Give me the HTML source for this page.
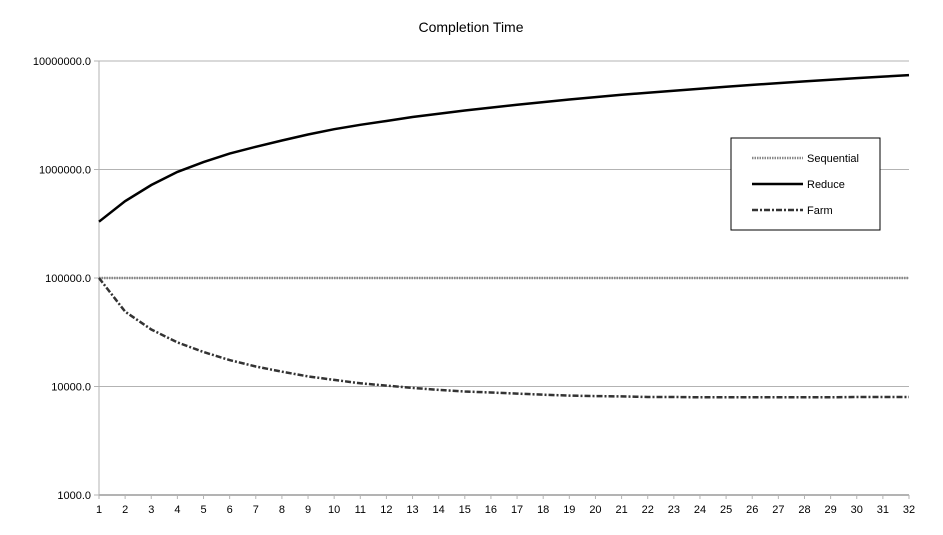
<!DOCTYPE html>
<html><head><meta charset="utf-8"><style>
body{margin:0;background:#fff;width:943px;height:530px;overflow:hidden;font-family:"Liberation Sans",sans-serif}
</style></head><body>
<svg id="chart" width="943" height="530" xmlns="http://www.w3.org/2000/svg" font-family="Liberation Sans, sans-serif">
<text x="471" y="32" font-size="14" text-anchor="middle" fill="#000">Completion Time</text>
<g id="grid"></g><g id="axes"></g><g id="series"></g>
<g>
<rect x="731" y="138" width="149" height="92" fill="#fff" stroke="#000" stroke-width="1"/>
<line x1="752" y1="158" x2="803" y2="158" stroke="#888" stroke-width="2.5" stroke-dasharray="1.5,1"/>
<text x="807" y="162" font-size="11" fill="#000">Sequential</text>
<line x1="752" y1="184" x2="803" y2="184" stroke="#000" stroke-width="2.5"/>
<text x="807" y="188" font-size="11" fill="#000">Reduce</text>
<line x1="752" y1="210" x2="803" y2="210" stroke="#333" stroke-width="2.5" stroke-dasharray="6,2,2,2"/>
<text x="807" y="214" font-size="11" fill="#000">Farm</text>
</g>
</svg>
<script>
const categories=[1,2,3,4,5,6,7,8,9,10,11,12,13,14,15,16,17,18,19,20,21,22,23,24,25,26,27,28,29,30,31,32];
const sequential=[100000,100000,100000,100000,100000,100000,100000,100000,100000,100000,100000,100000,100000,100000,100000,100000,100000,100000,100000,100000,100000,100000,100000,100000,100000,100000,100000,100000,100000,100000,100000,100000];
const reduce=[330000,510000,720000,950000,1170000,1400000,1620000,1850000,2100000,2350000,2580000,2800000,3050000,3270000,3500000,3720000,3950000,4180000,4420000,4650000,4880000,5100000,5330000,5560000,5800000,6020000,6250000,6480000,6720000,6950000,7180000,7420000];
const farm=[100000,49000,33500,25500,20800,17500,15300,13700,12400,11500,10700,10200,9700,9300,9000,8800,8600,8400,8250,8150,8100,8000,8000,7950,7950,7950,7950,7950,7950,8000,8000,8000];
const yTicks=[1000,10000,100000,1000000,10000000];
const yTickLabels=["1000.0","10000.0","100000.0","1000000.0","10000000.0"];
const NS="http://www.w3.org/2000/svg";
const X0=99,X1=909,Y0=495,Y1=61;
function xs(v){return X0+(v-categories[0])*(X1-X0)/(categories[categories.length-1]-categories[0]);}
function ys(v){return Y0-(Math.log10(v)-3)*(Y0-Y1)/4;}
function mk(tag,attrs,parent){const e=document.createElementNS(NS,tag);for(const k in attrs)e.setAttribute(k,attrs[k]);parent.appendChild(e);return e;}
const grid=document.getElementById('grid'),axes=document.getElementById('axes'),ser=document.getElementById('series');
yTicks.forEach((t,i)=>{
  const l=mk('line',{x1:X0-5,x2:X1,y1:ys(t),y2:ys(t),stroke:'#b3b3b3','stroke-width':1},grid);
  
  
  const tx=mk('text',{x:X0-8,y:ys(t)+4,'font-size':11,'text-anchor':'end',fill:'#000'},axes);
  tx.textContent=yTickLabels[i];
  
  
});
const ya=mk('line',{x1:X0,x2:X0,y1:Y1,y2:Y0,stroke:'#b3b3b3','stroke-width':1},axes);


const xa=mk('line',{x1:X0,x2:X1,y1:Y0,y2:Y0,stroke:'#b3b3b3','stroke-width':2},axes);


categories.forEach(c=>{
  mk('line',{x1:xs(c),x2:xs(c),y1:Y0,y2:Y0+4,stroke:'#b3b3b3'},axes);
  const tx=mk('text',{x:xs(c),y:Y0+18,'font-size':11,'text-anchor':'middle',fill:'#000'},axes);
  tx.textContent=c;
  
  
});
function line(data,style,name){
  const d=data.map((v,i)=>(i?'L':'M')+xs(categories[i]).toFixed(1)+','+ys(v).toFixed(1)).join('');
  const p=mk('path',Object.assign({d:d,fill:'none'},style),ser);
  
  
}
line(sequential,{stroke:'#888','stroke-width':2.5,'stroke-dasharray':'1.5,1'},'sequential-line');
line(reduce,{stroke:'#000','stroke-width':2.5},'reduce-line');
line(farm,{stroke:'#333','stroke-width':2.5,'stroke-dasharray':'6,2,2,2'},'farm-line');
</script>
</body></html>
